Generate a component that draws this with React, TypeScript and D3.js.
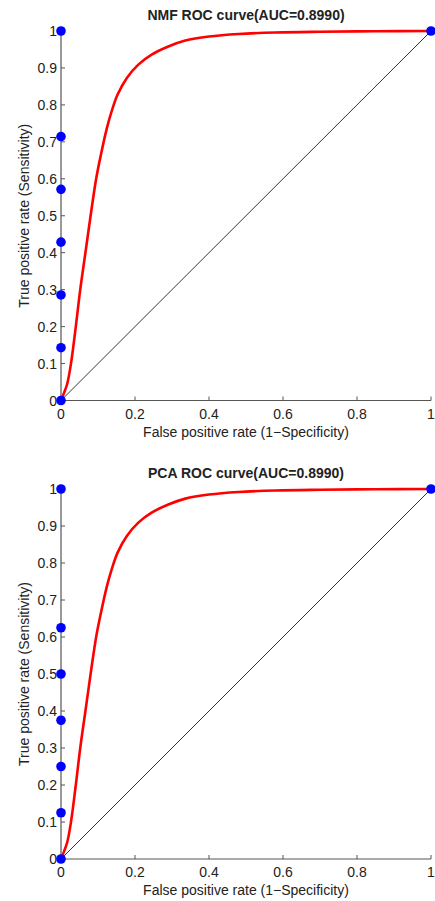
import React from "react";
import * as d3 from "d3";

const nmfFpr = [0, 0.008, 0.017, 0.027, 0.040, 0.052, 0.066, 0.080, 0.095, 0.107, 0.124, 0.137, 0.153, 0.178, 0.209, 0.245, 0.290, 0.336, 0.40, 0.48, 0.58, 0.70, 0.85, 1];
const nmfTpr = [0, 0.02, 0.046, 0.10, 0.20, 0.30, 0.40, 0.50, 0.60, 0.661, 0.737, 0.783, 0.828, 0.873, 0.909, 0.936, 0.958, 0.974, 0.985, 0.992, 0.996, 0.998, 0.9995, 1];
const nmfPointX = [0, 0, 0, 0, 0, 0, 0, 1];
const nmfPointY = [0, 0.1429, 0.2857, 0.4286, 0.5714, 0.7143, 1, 1];

const pcaFpr = [0, 0.008, 0.017, 0.027, 0.040, 0.052, 0.066, 0.080, 0.095, 0.107, 0.124, 0.137, 0.153, 0.178, 0.209, 0.245, 0.290, 0.336, 0.40, 0.48, 0.58, 0.70, 0.85, 1];
const pcaTpr = [0, 0.02, 0.046, 0.10, 0.20, 0.30, 0.40, 0.50, 0.60, 0.661, 0.737, 0.783, 0.828, 0.873, 0.909, 0.936, 0.958, 0.974, 0.985, 0.992, 0.996, 0.998, 0.9995, 1];
const pcaPointX = [0, 0, 0, 0, 0, 0, 0, 1];
const pcaPointY = [0, 0.125, 0.25, 0.375, 0.5, 0.625, 1, 1];

const xTicks = [0, 0.2, 0.4, 0.6, 0.8, 1];
const yTicks = [0, 0.1, 0.2, 0.3, 0.4, 0.5, 0.6, 0.7, 0.8, 0.9, 1];

const FONT = "'Liberation Sans', Arial, Helvetica, sans-serif";

function fmt(v: number) {
  return v === 0 ? "0" : v === 1 ? "1" : String(+v.toFixed(1));
}

type ChartProps = {
  top: number;
  bottom: number;
  title: string;
  fpr: number[];
  tpr: number[];
  px: number[];
  py: number[];
};

function Chart({ top, bottom, title, fpr, tpr, px, py }: ChartProps) {
  const left = 61;
  const right = 431;
  const x = d3.scaleLinear().domain([0, 1]).range([left, right]);
  const y = d3.scaleLinear().domain([0, 1]).range([bottom, top]);
  const pts: [number, number][] = fpr.map((f, i) => [f, tpr[i]]);
  const line = d3
    .line<[number, number]>()
    .x((d) => x(d[0]))
    .y((d) => y(d[1]))
    .curve(d3.curveCatmullRom.alpha(0.5));
  const axisColor = "#555";
  const textColor = "#222";
  return (
    <g fontFamily={FONT}>
      <text x={(left + right) / 2} y={top - 11} textAnchor="middle" fontSize={14} fontWeight="bold" fill={textColor}>
        {title}
      </text>
      <line x1={x(0)} y1={y(0)} x2={x(1)} y2={y(1)} stroke="#000" strokeWidth={0.8} />
      <line x1={left} y1={bottom} x2={right} y2={bottom} stroke={axisColor} strokeWidth={1.2} />
      <line x1={left} y1={bottom} x2={left} y2={top} stroke={axisColor} strokeWidth={1.2} />
      {xTicks.map((t) => (
        <g key={"x" + t}>
          <line x1={x(t)} x2={x(t)} y1={bottom} y2={bottom - 4} stroke={axisColor} strokeWidth={1} />
          <text x={x(t)} y={bottom + 18} textAnchor="middle" fontSize={14} fill={textColor}>
            {fmt(t)}
          </text>
        </g>
      ))}
      {yTicks.map((t) => (
        <g key={"y" + t}>
          <line x1={left} x2={left + 4} y1={y(t)} y2={y(t)} stroke={axisColor} strokeWidth={1} />
          <text x={left - 4} y={y(t) + 5} textAnchor="end" fontSize={14} fill={textColor}>
            {fmt(t)}
          </text>
        </g>
      ))}
      <text x={(left + right) / 2} y={bottom + 36} textAnchor="middle" fontSize={14} fill={textColor}>
        False positive rate (1−Specificity)
      </text>
      <text
        transform={`translate(29,${(top + bottom) / 2}) rotate(-90)`}
        textAnchor="middle"
        fontSize={14}
        fill={textColor}
      >
        True positive rate (Sensitivity)
      </text>
      <path d={line(pts) || ""} fill="none" stroke="#ff0000" strokeWidth={2.6} />
      {px.map((v, i) => (
        <circle key={"p" + i} cx={x(v)} cy={y(py[i])} r={4.8} fill="#0000ff" />
      ))}
    </g>
  );
}

export default function App() {
  return (
    <svg
      width={435}
      height={901}
      style={{ position: "absolute", left: 0, top: 0, background: "#fff" }}
    >
      <rect width={435} height={901} fill="#fff" />
      <Chart top={31} bottom={400.5} title="NMF ROC curve(AUC=0.8990)" fpr={nmfFpr} tpr={nmfTpr} px={nmfPointX} py={nmfPointY} />
      <Chart top={489} bottom={859} title="PCA ROC curve(AUC=0.8990)" fpr={pcaFpr} tpr={pcaTpr} px={pcaPointX} py={pcaPointY} />
    </svg>
  );
}
